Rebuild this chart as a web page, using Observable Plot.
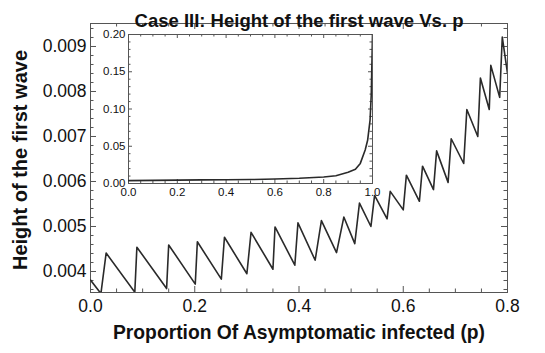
<!DOCTYPE html>
<html><head><meta charset="utf-8">
<script src="https://cdn.jsdelivr.net/npm/d3@7"></script>
<script src="https://cdn.jsdelivr.net/npm/@observablehq/plot@0.6"></script>
<style>
body{margin:0;background:#fff;}
#wrap{position:relative;width:545px;height:353px;}
#wrap svg{position:absolute;left:0;top:0;}
</style></head><body><div id="wrap"></div>
<script>
// ---- data ----
const pMain = [0, 0.020, 0.030, 0.085, 0.089, 0.146, 0.150, 0.201, 0.205, 0.251, 0.257, 0.300, 0.308, 0.350, 0.354, 0.392, 0.398, 0.431, 0.443, 0.472, 0.486, 0.507, 0.516, 0.538, 0.545, 0.569, 0.575, 0.600, 0.606, 0.631, 0.637, 0.658, 0.664, 0.686, 0.692, 0.716, 0.722, 0.743, 0.748, 0.765, 0.768, 0.785, 0.790, 0.800];
const hMain = [0.00381, 0.00351, 0.00441, 0.00354, 0.00454, 0.00362, 0.00459, 0.00372, 0.00466, 0.00383, 0.00476, 0.00395, 0.00487, 0.00405, 0.00499, 0.00414, 0.00508, 0.00425, 0.00513, 0.00442, 0.00521, 0.00462, 0.00552, 0.00500, 0.00569, 0.00517, 0.00578, 0.00537, 0.00614, 0.00556, 0.00634, 0.00582, 0.00668, 0.00598, 0.00695, 0.00640, 0.00760, 0.00700, 0.00830, 0.00760, 0.00858, 0.00787, 0.00921, 0.00840];
const pInset = [0, 0.1, 0.2, 0.3, 0.4, 0.5, 0.6, 0.7, 0.8, 0.85, 0.9, 0.93, 0.95, 0.97, 0.98, 0.99, 0.995, 1.0];
const hInset = [0.0038, 0.0042, 0.0045, 0.0048, 0.0050, 0.0053, 0.0060, 0.0070, 0.0088, 0.0105, 0.0150, 0.0190, 0.0270, 0.0450, 0.0580, 0.0850, 0.1200, 0.2000];
const xTicksMain = [0, 0.2, 0.4, 0.6, 0.8];
const yTicksMain = [0.004, 0.005, 0.006, 0.007, 0.008, 0.009];
const xTicksInset = [0, 0.2, 0.4, 0.6, 0.8, 1.0];
const yTicksInset = [0, 0.05, 0.10, 0.15, 0.20];
const titleText = "Case III: Height of the first wave Vs. p";
const xLabel = "Proportion Of Asymptomatic infected (p)";
const yLabel = "Height of the first wave";

const mainData = pMain.map((p, i) => ({p, h: hMain[i]}));
const insetData = pInset.map((p, i) => ({p, h: hInset[i]}));

const FONT = "'Liberation Sans', Arial, Helvetica, sans-serif";
const FRAME = "#555";
const LINE = "#2a2a2a";
const W = 545, H = 353;

// main layout
const mL = 90, mR = 38, mT = 23, mB = 61;
const fW = W - mL - mR, fH = H - mT - mB;
const xMinorMain = d3.range(0, 0.8001, 0.05).filter(v => !xTicksMain.some(t => Math.abs(t - v) < 1e-9));
const yMinorMain = d3.range(0.0036, 0.0095, 0.0002).filter(v => !yTicksMain.some(t => Math.abs(t - v) < 1e-9));

function frameTicks(xMaj, xMin, yMaj, yMin, fw, fh, maj, mnr) {
  return [
    Plot.tickX(xMaj, {x: d => d, insetTop: fh - maj, stroke: FRAME}),
    Plot.tickX(xMaj, {x: d => d, insetBottom: fh - maj, stroke: FRAME}),
    Plot.tickX(xMin, {x: d => d, insetTop: fh - mnr, stroke: FRAME}),
    Plot.tickX(xMin, {x: d => d, insetBottom: fh - mnr, stroke: FRAME}),
    Plot.tickY(yMaj, {y: d => d, insetRight: fw - maj, stroke: FRAME}),
    Plot.tickY(yMaj, {y: d => d, insetLeft: fw - maj, stroke: FRAME}),
    Plot.tickY(yMin, {y: d => d, insetRight: fw - mnr, stroke: FRAME}),
    Plot.tickY(yMin, {y: d => d, insetLeft: fw - mnr, stroke: FRAME})
  ];
}

const main = Plot.plot({
  width: W, height: H,
  marginLeft: mL, marginRight: mR, marginTop: mT, marginBottom: mB,
  style: {fontFamily: FONT, color: "#111", background: "white"},
  x: {domain: [0, 0.8], axis: null},
  y: {domain: [0.003533, 0.009511], axis: null},
  marks: [
    Plot.frame({stroke: FRAME}),
    ...frameTicks(xTicksMain, xMinorMain, yTicksMain, yMinorMain, fW, fH, 6, 3.5),
    Plot.line(mainData, {x: "p", y: "h", stroke: LINE, strokeWidth: 1.6, clip: true}),
    Plot.text(xTicksMain, {x: d => d, frameAnchor: "bottom", dy: 19, text: d => d.toFixed(1), fontSize: 17.5, fill: "#111"}),
    Plot.text(yTicksMain, {y: d => d, frameAnchor: "left", dx: -4, textAnchor: "end", text: d => d.toFixed(3), fontSize: 17.5, fill: "#111"}),
    Plot.text([titleText], {frameAnchor: "top", dy: -10, text: d => d, fontSize: 18.5, fontWeight: "bold", fill: "#111"}),
    Plot.text([xLabel], {frameAnchor: "bottom", dy: 46, text: d => d, fontSize: 19.3, fontWeight: "bold", fill: "#111"}),
    Plot.text([yLabel], {frameAnchor: "left", textAnchor: "middle", dx: -70, dy: 2, rotate: -90, text: d => d, fontSize: 20, fontWeight: "bold", fill: "#111"})
  ]
});

// inset layout
const iL = 128, iR = W - 372, iT = 34, iB = H - 183;
const ifW = W - iL - iR, ifH = H - iT - iB;
const xMinorInset = d3.range(0, 1.0001, 0.05).filter(v => !xTicksInset.some(t => Math.abs(t - v) < 1e-9));
const yMinorInset = d3.range(0, 0.2001, 0.01).filter(v => !yTicksInset.some(t => Math.abs(t - v) < 1e-9));

const inset = Plot.plot({
  width: W, height: H,
  marginLeft: iL, marginRight: iR, marginTop: iT, marginBottom: iB,
  style: {fontFamily: FONT, color: "#111", background: "transparent"},
  x: {domain: [0, 1], axis: null},
  y: {domain: [0, 0.2], axis: null},
  marks: [
    Plot.frame({fill: "white", stroke: FRAME}),
    ...frameTicks(xTicksInset, xMinorInset, yTicksInset, yMinorInset, ifW, ifH, 4, 2.5),
    Plot.line(insetData, {x: "p", y: "h", stroke: LINE, strokeWidth: 1.6, clip: true}),
    Plot.text(xTicksInset, {x: d => d, frameAnchor: "bottom", dy: 12.5, text: d => d.toFixed(1), fontSize: 11.5, fill: "#111"}),
    Plot.text(yTicksInset, {y: d => d, frameAnchor: "left", dx: -3, textAnchor: "end", text: d => d.toFixed(2), fontSize: 11.5, fill: "#111"})
  ]
});

const wrap = document.getElementById("wrap");
wrap.appendChild(main);
wrap.appendChild(inset);
</script></body></html>
